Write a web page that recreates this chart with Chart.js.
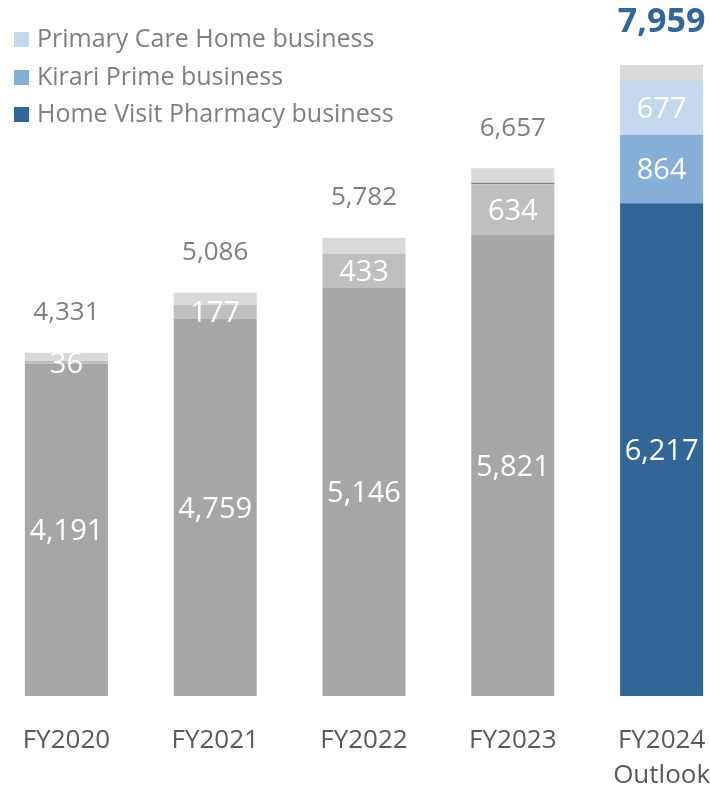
<!DOCTYPE html>
<html lang="en">
<head>
    <meta charset="UTF-8">
    <title>Sales by business</title>
    <script src="https://cdn.jsdelivr.net/npm/chart.js"></script>
    <style>
        body { margin: 0; width: 710px; height: 787px; overflow: hidden; background: #fff; position: relative; font-family: "Open Sans", "Noto Sans", sans-serif; }
        #wrap { position: absolute; left: -8px; top: 0; width: 744px; height: 787px; }
        #legend { position: absolute; left: 14px; top: 19px; color: #7f7f7f; font-size: 25px; line-height: 37.5px; }
        #legend span.box { display: inline-block; width: 15px; height: 15px; margin-right: 8px; vertical-align: 0px; }
    </style>
</head>
<body>
    <div id="wrap"><canvas id="salesChart"></canvas></div>
    <div id="legend">
        <div><span class="box" style="background:#c3d8ec"></span>Primary Care Home business</div>
        <div><span class="box" style="background:#86afd7"></span>Kirari Prime business</div>
        <div><span class="box" style="background:#316697"></span>Home Visit Pharmacy business</div>
    </div>

    <script>
        // dados
        const labels = ['FY2020', 'FY2021', 'FY2022', 'FY2023', ['FY2024', 'Outlook']];
        const homeVisit = [4191, 4759, 5146, 5821, 6217];
        const kirari = [36, 177, 433, 634, 864];
        const primaryCare = [0, 0, 0, 20, 677];
        const other = [104, 150, 203, 182, 201];
        const totals = [4331, 5086, 5782, 6657, 7959];

        // cinza para anos passados, azul para a previsão
        const colHome = ['#a6a6a6', '#a6a6a6', '#a6a6a6', '#a6a6a6', '#316697'];
        const colKirari = ['#bfbfbf', '#bfbfbf', '#bfbfbf', '#bfbfbf', '#86afd7'];
        const colPrimary = ['#7f7f7f', '#7f7f7f', '#7f7f7f', '#7f7f7f', '#c3d8ec'];
        const colOther = '#d9d9d9';

        const labelPlugin = {
            id: 'valueLabels',
            afterDatasetsDraw(chart) {
                const ctx = chart.ctx;
                ctx.save();
                ctx.textAlign = 'center';
                ctx.textBaseline = 'middle';
                // rótulos dentro dos segmentos
                [0, 1, 2].forEach(di => {
                    const meta = chart.getDatasetMeta(di);
                    const values = chart.data.datasets[di].data;
                    meta.data.forEach((bar, i) => {
                        if (values[i] < 30) return;
                        ctx.fillStyle = '#ffffff';
                        ctx.font = '29px "Open Sans", "Noto Sans", sans-serif';
                        ctx.fillText(values[i].toLocaleString('en-US'), bar.x, (bar.y + bar.base) / 2 + 2);
                    });
                });
                // totais acima das barras
                const yScale = chart.scales.y;
                const metaTop = chart.getDatasetMeta(0);
                totals.forEach((t, i) => {
                    const x = metaTop.data[i].x;
                    const y = yScale.getPixelForValue(t);
                    if (i === totals.length - 1) {
                        ctx.fillStyle = '#316697';
                        ctx.font = 'bold 34px "Open Sans", "Noto Sans", sans-serif';
                        ctx.fillText(t.toLocaleString('en-US'), x, y - 43);
                    } else {
                        ctx.fillStyle = '#7f7f7f';
                        ctx.font = '26px "Open Sans", "Noto Sans", sans-serif';
                        ctx.fillText(t.toLocaleString('en-US'), x, y - 40);
                    }
                });
                ctx.restore();
            }
        };

        const ctx = document.getElementById('salesChart').getContext('2d');
        const salesChart = new Chart(ctx, {
            type: 'bar',
            data: {
                labels: labels,
                datasets: [
                    { label: 'Home Visit Pharmacy business', data: homeVisit, backgroundColor: colHome },
                    { label: 'Kirari Prime business', data: kirari, backgroundColor: colKirari },
                    { label: 'Primary Care Home business', data: primaryCare, backgroundColor: colPrimary },
                    { label: 'Other', data: other, backgroundColor: colOther }
                ]
            },
            options: {
                responsive: false,
                animation: false,
                maintainAspectRatio: false,
                layout: { padding: 0 },
                datasets: { bar: { categoryPercentage: 1, barPercentage: 0.558, borderWidth: 0 } },
                plugins: {
                    legend: { display: false },
                    tooltip: { enabled: false }
                },
                scales: {
                    x: {
                        stacked: true,
                        grid: { display: false },
                        border: { display: false },
                        ticks: {
                            color: '#595959',
                            padding: 19,
                            font: { size: 26, family: '"Open Sans", "Noto Sans", sans-serif', lineHeight: 1.35 }
                        },
                        afterFit(scale) { scale.height = 91; }
                    },
                    y: {
                        stacked: true,
                        display: false,
                        min: 0,
                        max: 8780
                    }
                }
            },
            plugins: [labelPlugin]
        });
        salesChart.resize(744, 787);
    </script>
</body>
</html>
